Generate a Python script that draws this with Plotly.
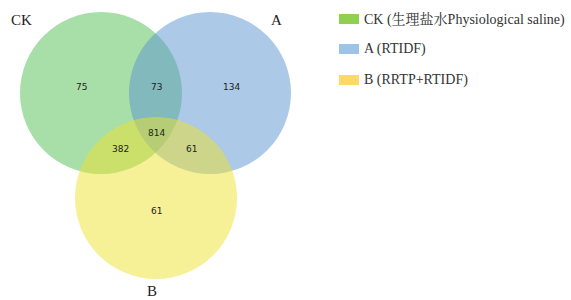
import plotly.graph_objects as go

set_names = ["CK", "A", "B"]
legend_labels = ["CK (生理盐水Physiological saline)", "A (RTIDF)", "B (RRTP+RTIDF)"]
region_labels = ["CK only", "CK∩A", "A only", "CK∩A∩B", "CK∩B", "A∩B", "B only"]
region_counts = [75, 73, 134, 814, 382, 61, 61]

# layout (pixel geometry)
centers = {"CK": (101, 93), "A": (210, 93), "B": (156, 198)}
radius = 81
fill_colors = {"CK": "rgba(81,189,81,0.5)", "A": "rgba(89,147,209,0.5)", "B": "rgba(237,225,45,0.5)"}
swatch_colors = {"CK": "#8fd14f", "A": "#9dc3e6", "B": "#ffd966"}
set_label_pos = {"CK": (21, 20), "A": (276, 20), "B": (152, 291)}
region_pos = [(81, 87), (156, 87), (231, 87), (156, 133), (120, 149), (191, 149), (156, 211)]
legend_y = [19, 49, 80]

serif = "Liberation Serif, Noto Serif CJK SC, Noto Sans CJK SC, serif"

fig = go.Figure()
fig.add_trace(go.Scatter(x=[0], y=[0], mode="markers", marker=dict(opacity=0), showlegend=False, hoverinfo="skip"))

shapes = []
for name in set_names:
    cx, cy = centers[name]
    shapes.append(dict(type="circle", xref="x", yref="y", x0=cx - radius, x1=cx + radius,
                       y0=cy - radius, y1=cy + radius, fillcolor=fill_colors[name],
                       line=dict(width=0), layer="above"))

annotations = []
for name in set_names:
    x, y = set_label_pos[name]
    annotations.append(dict(x=x, y=y, xref="x", yref="y", text=name, showarrow=False,
                            borderpad=0, font=dict(family=serif, size=15, color="#222")))
for lab, cnt, (x, y) in zip(region_labels, region_counts, region_pos):
    annotations.append(dict(x=x, y=y, xref="x", yref="y", text=str(cnt), showarrow=False,
                            font=dict(family="DejaVu Sans", size=9, color="#222")))
for name, lab, y in zip(set_names, legend_labels, legend_y):
    shapes.append(dict(type="rect", xref="x", yref="y", x0=339, x1=359, y0=y - 5, y1=y + 5,
                       fillcolor=swatch_colors[name], line=dict(width=0)))
    annotations.append(dict(x=362, y=y, xref="x", yref="y", text=lab, showarrow=False,
                            xanchor="left", font=dict(family=serif, size=14, color="#333")))

fig.update_layout(
    width=571, height=300, margin=dict(l=0, r=0, t=0, b=0),
    plot_bgcolor="white", paper_bgcolor="white",
    xaxis=dict(range=[0, 571], visible=False, fixedrange=True),
    yaxis=dict(range=[300, 0], visible=False, fixedrange=True),
    shapes=shapes, annotations=annotations, showlegend=False,
)
fig.write_html("out.html", config={"displayModeBar": False},
               post_script="document.body.style.margin='0';document.body.style.overflow='hidden';")
